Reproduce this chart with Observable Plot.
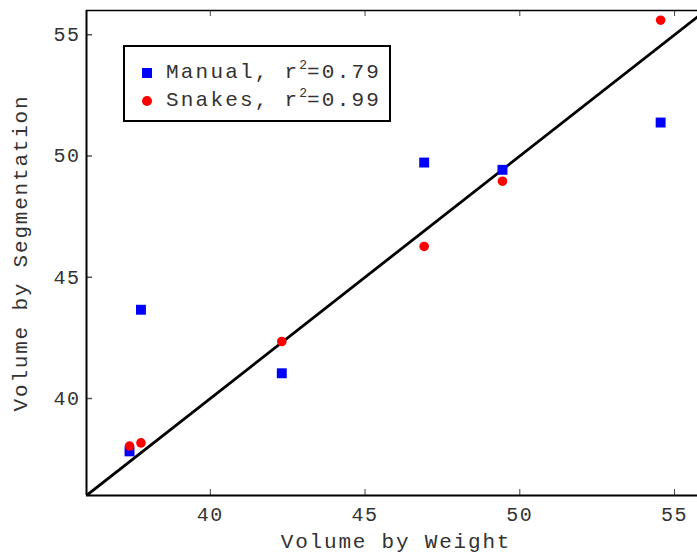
<!DOCTYPE html>
<html>
<head>
<meta charset="utf-8">
<script src="https://cdn.jsdelivr.net/npm/d3@7"></script>
<script src="https://cdn.jsdelivr.net/npm/@observablehq/plot@0.6"></script>
<style>
  html, body { margin: 0; padding: 0; background: #fff; overflow: hidden; }
  #wrap { position: relative; width: 697px; height: 554px; overflow: hidden; }
  #legend {
    position: absolute; left: 123px; top: 45px; width: 264px; height: 73px;
    border: 2px solid #000; background: #fff;
    font-family: "Courier New", "Liberation Mono", monospace; font-size: 21px; letter-spacing: 2.2px; color: #333;
  }
  .row { position: absolute; left: 0; height: 24px; line-height: 24px; }
  .sw { position: absolute; }
  .lbl { position: absolute; left: 41px; white-space: nowrap; }
  sup { font-size: 13px; letter-spacing: 0; vertical-align: 9px; line-height: 0; }
</style>
</head>
<body>
<div id="wrap"></div>
<script>
// ---- data ----
const weight   = [37.39, 37.76, 42.31, 46.91, 49.44, 54.55];
const manual   = [37.82, 43.66, 41.04, 49.73, 49.43, 51.38];
const snakes   = [38.04, 38.17, 42.35, 46.27, 48.96, 55.60];
const fitX     = [36, 56];
const fitY     = [36, 56];
const xTicks   = [40, 45, 50, 55];
const yTicks   = [40, 45, 50, 55];
const xDomain  = [36, 56];
const yDomain  = [36, 56];
const seriesNames = ["Manual", "Snakes"];
const r2Values = ["0.79", "0.99"];
const xTitle = "Volume by Weight";
const yTitle = "Volume by Segmentation";

// ---- layout ----
const W = 697, H = 554, mL = 86, mR = -8, mT = 10, mB = 59;
const frameW = W - mL - mR, frameH = H - mT - mB;
const tickLen = 6;
const font = '"Courier New", "Liberation Mono", monospace';

const manualPts = weight.map((x, i) => ({x, y: manual[i]}));
const snakesPts = weight.map((x, i) => ({x, y: snakes[i]}));
const fitPts = fitX.map((x, i) => ({x, y: fitY[i]}));

const plot = Plot.plot({
  width: W, height: H,
  marginLeft: mL, marginRight: mR, marginTop: mT, marginBottom: mB,
  style: {fontFamily: font, background: "#fff", overflow: "hidden", maxWidth: "none"},
  x: {domain: xDomain, ticks: xTicks},
  y: {domain: yDomain, ticks: yTicks},
  marks: [
    Plot.line(fitPts, {x: "x", y: "y", stroke: "#000", strokeWidth: 2.8, clip: true}),
    Plot.dot(manualPts, {x: "x", y: "y", symbol: "square", r: 5.6, fill: "#0000ff", stroke: "none"}),
    Plot.dot(snakesPts, {x: "x", y: "y", symbol: "circle", r: 4.8, fill: "#ff0000", stroke: "none"}),
    // inward ticks
    Plot.tickX(xTicks, {x: d => d, insetTop: frameH - tickLen, stroke: "#444", strokeWidth: 1}),
    Plot.tickX(xTicks, {x: d => d, insetBottom: frameH - tickLen, stroke: "#444", strokeWidth: 1}),
    Plot.tickY(yTicks, {y: d => d, insetRight: frameW - tickLen, stroke: "#555", strokeWidth: 1.5}),
    // frame lines
    Plot.ruleY([yDomain[1]], {stroke: "#000", strokeWidth: 1.5}),
    Plot.ruleX([xDomain[0]], {stroke: "#000", strokeWidth: 2}),
    Plot.ruleY([yDomain[0]], {stroke: "#000", strokeWidth: 2}),
    // tick labels
    Plot.axisX({ticks: xTicks, tickSize: 0, tickPadding: 11, fontSize: 20, label: null, fill: "#333"}),
    Plot.axisY({ticks: yTicks, tickSize: 0, tickPadding: 6, fontSize: 20, label: null, fill: "#333"}),
    // titles
    Plot.text([xTitle], {frameAnchor: "bottom", dy: 46, fontSize: 21, fill: "#333", textAnchor: "middle", lineAnchor: "middle"}),
    Plot.text([yTitle], {frameAnchor: "left", dx: -66, rotate: -90, fontSize: 21, fill: "#333", textAnchor: "middle", lineAnchor: "middle"})
  ]
});

// letter spacing to match the wide monospace of the reference
d3.select(plot).selectAll('g[aria-label="x-axis tick label"] text, g[aria-label="y-axis tick label"] text')
  .style("letter-spacing", "1.5px");
d3.select(plot).selectAll('g[aria-label="text"] text')
  .style("letter-spacing", "1.8px");

const wrap = document.getElementById("wrap");
wrap.appendChild(plot);

// legend (HTML overlay)
const legend = document.createElement("div");
legend.id = "legend";
const swatches = [
  '<span class="sw" style="left:17px;top:7px;width:10px;height:10px;background:#0000ff"></span>',
  '<span class="sw" style="left:17px;top:7px;width:10px;height:10px;border-radius:50%;background:#ff0000"></span>'
];
legend.innerHTML = seriesNames.map((name, i) =>
  `<div class="row" style="top:${14 + i * 28}px">${swatches[i]}<span class="lbl">${name}, r<sup>2</sup>=${r2Values[i]}</span></div>`
).join("");
wrap.appendChild(legend);
</script>
</body>
</html>
